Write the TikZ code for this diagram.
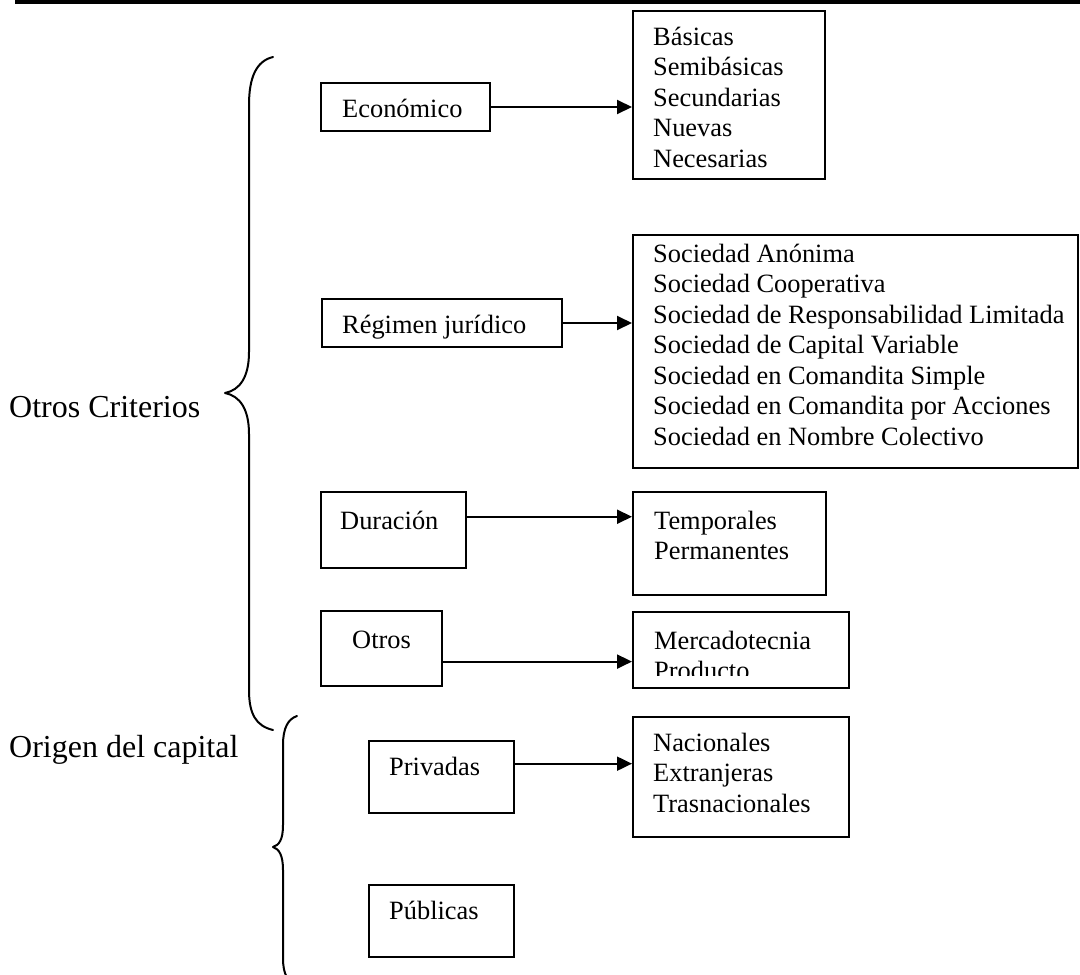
\documentclass[tikz,border=0pt]{standalone}
\usepackage{fontspec}
\setmainfont{Liberation Serif}
\usetikzlibrary{arrows.meta,calc}
\newcommand\stack[1]{\begin{tabular}[t]{@{}l@{}}#1\end{tabular}}
\begin{document}
\begin{tikzpicture}[x=1pt,y=-1pt,
  box/.style={draw, line width=2pt, inner sep=0pt, anchor=north west},
  lbl/.style={inner sep=0pt, anchor=base west, font=\fontsize{26.4}{30.5}\selectfont},
  big/.style={inner sep=0pt, anchor=base west, font=\fontsize{32}{38}\selectfont},
  arr/.style={line width=2pt, -{Triangle[length=15pt,width=14pt]}},
  brace/.style={line width=2pt, line cap=round, line join=round},
]
\useasboundingbox (0,0) rectangle (1080,975);
\fill[white] (0,0) rectangle (1080,975);
\clip (0,0) rectangle (1080,975);

% rule across the top
\draw[line width=4pt] (15,2) -- (1080,2);

% side labels
\node[big] (otros-criterios) at (9,417) {Otros Criterios};
\node[big] (origen) at (9,757) {Origen del capital};

% braces
\draw[brace] (273,57) .. controls (256,61) and (249,78) .. (249,105)
  -- (249,352) .. controls (249,377) and (240,390) .. (225,393)
  .. controls (240,396) and (249,409) .. (249,434)
  -- (249,690) .. controls (249,714) and (256,726) .. (273,730);
\draw[brace] (297,716) .. controls (288,719) and (283,728) .. (283,745)
  -- (283,825) .. controls (283,840) and (279,845) .. (273,847)
  .. controls (279,849) and (283,855) .. (283,870)
  -- (283,958) .. controls (283,975) and (288,982) .. (297,985);

% category boxes
\node[box, minimum width=169pt, minimum height=48pt] (eco) at (320,82) {};
\node[box, minimum width=240pt, minimum height=48pt] (reg) at (321,298) {};
\node[box, minimum width=145pt, minimum height=76pt] (dur) at (320,491) {};
\node[box, minimum width=121pt, minimum height=75pt] (otr) at (320,610) {};
\node[box, minimum width=145pt, minimum height=72pt] (pri) at (368,740) {};
\node[box, minimum width=145pt, minimum height=72pt] (pub) at (368,884) {};

% list boxes
\node[box, minimum width=192pt, minimum height=168pt] (bas) at (632,10) {};
\node[box, minimum width=445pt, minimum height=233pt] (soc) at (632,234) {};
\node[box, minimum width=193pt, minimum height=103pt] (tem) at (632,491) {};
\node[box, minimum width=216pt, minimum height=76pt] (mer) at (632,611) {};
\node[box, minimum width=216pt, minimum height=120pt] (nac) at (632,716) {};

% texts of the category boxes
\node[lbl] (eco-t) at (342,117) {Económico};
\begin{scope}
  \clip (reg.north west) rectangle ([yshift=10pt]reg.south east);
  \node[lbl] (reg-t) at (342,333) {Régimen jurídico};
\end{scope}
\node[lbl] (dur-t) at (340,529) {Duración};
\node[lbl] (otr-t) at (352,648) {Otros};
\node[lbl] (pri-t) at (389,775) {Privadas};
\node[lbl] (pub-t) at (389,919) {Públicas};

% texts of the list boxes
\node[lbl] (bas-t) at (653,45) {\stack{Básicas\\Semibásicas\\Secundarias\\Nuevas\\Necesarias}};
\node[lbl] (soc-t) at (653,262) {\stack{Sociedad Anónima\\Sociedad Cooperativa\\Sociedad de Responsabilidad Limitada\\Sociedad de Capital Variable\\Sociedad en Comandita Simple\\Sociedad en Comandita por Acciones\\Sociedad en Nombre Colectivo}};
\node[lbl] (tem-t) at (654,529) {\stack{Temporales\\Permanentes}};
\begin{scope}
  \clip (mer.north west) rectangle ([yshift=14pt]mer.south east);
  \node[lbl] (mer-t) at (654,649) {\stack{Mercadotecnia\\Producto}};
\end{scope}
\node[lbl] (nac-t) at (653,751) {\stack{Nacionales\\Extranjeras\\Trasnacionales}};

% connectors
\coordinate (a-dur) at ($(dur.north east)!0.33!(dur.south east)$);
\coordinate (a-otr) at ($(otr.north east)!0.67!(otr.south east)$);
\coordinate (a-pri) at ($(pri.north east)!0.32!(pri.south east)$);
\draw[arr] (eco.east) -- (eco.east -| bas.west);
\draw[arr] (reg.east) -- (reg.east -| soc.west);
\draw[arr] (a-dur) -- (a-dur -| tem.west);
\draw[arr] (a-otr) -- (a-otr -| mer.west);
\draw[arr] (a-pri) -- (a-pri -| nac.west);
\end{tikzpicture}
\end{document}
